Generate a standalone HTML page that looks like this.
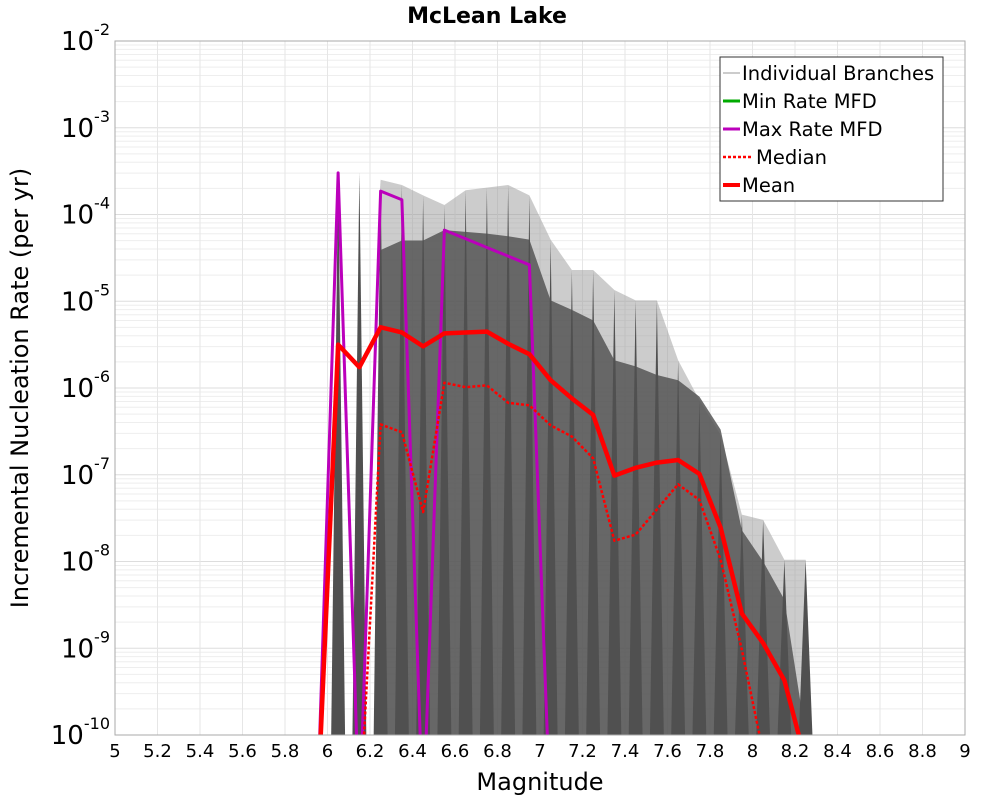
<!DOCTYPE html>
<html><head><meta charset="utf-8"><style>
body{margin:0;background:#fff;font-family:"DejaVu Sans","Liberation Sans",sans-serif}
svg{display:block}
</style></head><body>
<svg id="chart" width="1000" height="800" xmlns="http://www.w3.org/2000/svg">
<text x="487" y="23" text-anchor="middle" font-size="22" font-weight="bold" fill="#000">McLean Lake</text>
<g id="grid"></g>
<g id="plot" clip-path="url(#clip)"></g>
<defs><clipPath id="clip"><rect x="115" y="41" width="850" height="694"/></clipPath></defs>
<rect x="115" y="41" width="850" height="694" fill="none" stroke="#aaa" stroke-width="1"/>
<g id="axes"></g>
<text x="540" y="790" text-anchor="middle" font-size="24" fill="#000">Magnitude</text>
<text transform="translate(28,388) rotate(-90)" text-anchor="middle" font-size="24" fill="#000">Incremental Nucleation Rate (per yr)</text>
<g>
<rect x="720" y="57" width="223" height="144" fill="#fff" stroke="#333" stroke-width="1"/>
<g><line x1="723" y1="73" x2="740" y2="73" stroke="#bbb" stroke-width="1.5"/><text x="742" y="80" font-size="19.5">Individual Branches</text></g>
<g><line x1="723" y1="101" x2="740" y2="101" stroke="#0a0" stroke-width="3"/><text x="742" y="108" font-size="19.5">Min Rate MFD</text></g>
<g><line x1="723" y1="129" x2="740" y2="129" stroke="#b0b" stroke-width="3"/><text x="742" y="136" font-size="19.5">Max Rate MFD</text></g>
<g><line x1="723" y1="157" x2="752" y2="157" stroke="#f00" stroke-width="2.5" stroke-dasharray="3,2"/><text x="756" y="164" font-size="19.5">Median</text></g>
<g><line x1="723" y1="185" x2="740" y2="185" stroke="#f00" stroke-width="4"/><text x="742" y="192" font-size="19.5">Mean</text></g>
</g>
</svg>
<script>
const mags=[5.95,6.05,6.15,6.25,6.35,6.45,6.55,6.65,6.75,6.85,6.95,7.05,7.15,7.25,7.35,7.45,7.55,7.65,7.75,7.85,7.95,8.05,8.15,8.25,8.35];
// log10 rates; -12 means effectively zero
const meanLog=[-12,-5.50,-5.76,-5.30,-5.36,-5.52,-5.37,-5.36,-5.35,-5.49,-5.61,-5.91,-6.12,-6.31,-7.01,-6.92,-6.86,-6.83,-6.99,-7.61,-8.60,-8.94,-9.37,-10.3,-12];
const medianLog=[-12,-12,-12,-6.42,-6.51,-7.43,-5.94,-5.99,-5.97,-6.17,-6.20,-6.43,-6.56,-6.81,-7.76,-7.69,-7.40,-7.11,-7.29,-7.98,-9.02,-10.2,-12,-12,-12];
const maxLog=[-12,-3.52,-12,-3.73,-3.83,-12,-4.18,-4.28,-4.38,-4.48,-4.58,-12,-12,-12,-12,-12,-12,-12,-12,-12,-12,-12,-12,-12,-12];
const envTopLog=[-12,-3.51,-3.51,-3.60,-3.66,-3.78,-3.89,-3.72,-3.69,-3.66,-3.78,-4.29,-4.64,-4.64,-4.87,-4.99,-4.99,-5.68,-6.14,-6.54,-7.46,-7.52,-7.98,-7.98,-12];
const coreTopLog=[-12,-12,-12,-4.41,-4.30,-4.30,-4.18,-4.20,-4.22,-4.25,-4.29,-4.99,-5.10,-5.22,-5.68,-5.75,-5.85,-5.91,-6.10,-6.48,-7.64,-8.0,-8.44,-10.0,-12];
const xTicks=[5,5.2,5.4,5.6,5.8,6,6.2,6.4,6.6,6.8,7,7.2,7.4,7.6,7.8,8,8.2,8.4,8.6,8.8,9];
const yExps=[-2,-3,-4,-5,-6,-7,-8,-9,-10];
const cloudStart=3, cloudEnd=23;
const X=m=>115+(m-5)*212.5;
const Y=l=>41+(-2-l)*86.75;
const NS="http://www.w3.org/2000/svg";
function mk(tag,attrs,parent){const e=document.createElementNS(NS,tag);for(const k in attrs)e.setAttribute(k,attrs[k]);parent.appendChild(e);return e;}
const grid=document.getElementById('grid'),plot=document.getElementById('plot'),axes=document.getElementById('axes');
for(let d=-10;d<-2;d++){for(let k=2;k<10;k++){const l=mk('line',{x1:115,x2:965,y1:Y(d+Math.log10(k)),y2:Y(d+Math.log10(k)),stroke:'#eee','stroke-width':1},grid);

}}
yExps.forEach(e=>{const l=mk('line',{x1:115,x2:965,y1:Y(e),y2:Y(e),stroke:'#ddd','stroke-width':1},grid);


const t=mk('text',{x:110,y:Y(e)+9,'text-anchor':'end','font-size':26,fill:'#000'},axes);


t.textContent='10';
const s=mk('tspan',{dy:-15,'font-size':16},t);s.textContent=String(e);});
xTicks.forEach(v=>{const l=mk('line',{x1:X(v),x2:X(v),y1:41,y2:735,stroke:'#e6e6e6','stroke-width':1},grid);


const t=mk('text',{x:X(v),y:757,'text-anchor':'middle','font-size':18,fill:'#000'},axes);


t.textContent=String(v);});
function area(arr,fill,op,name){let d='';
 for(let i=cloudStart;i<=cloudEnd;i++){const y=Y(Math.max(arr[i],-10.5));d+=(d?'L':'M')+X(mags[i])+','+y;}
 d+='L'+X(mags[cloudEnd])+',760L'+X(mags[cloudStart])+',760Z';
 const p=mk('path',{d:d,fill:fill,'fill-opacity':op},plot);
 
 }
area(envTopLog,'#999',0.5,'branches-envelope');
area(coreTopLog,'#555',0.85,'branches-core');
mags.forEach((m,i)=>{if(envTopLog[i]<-11)return;const p=mk('path',{d:`M${X(m)-7},740L${X(m)},${Y(envTopLog[i])}L${X(m)+7},740Z`,fill:'#505050'},plot);

});
function line(arr,stroke,w,dash,name){const pts=mags.map((m,i)=>X(m)+','+Y(Math.max(arr[i],-11))).join(' ');
 const a={points:pts,fill:'none',stroke:stroke,'stroke-width':w,'stroke-linejoin':'round'};if(dash)a['stroke-dasharray']=dash;
 const p=mk('polyline',a,plot);
 
 }
line(maxLog,'#b0b',3,null,'max-rate-line');
line(medianLog,'#f00',2.5,'3,2','median-line');
line(meanLog,'#f00',4.5,null,'mean-line');
</script>
</body></html>
